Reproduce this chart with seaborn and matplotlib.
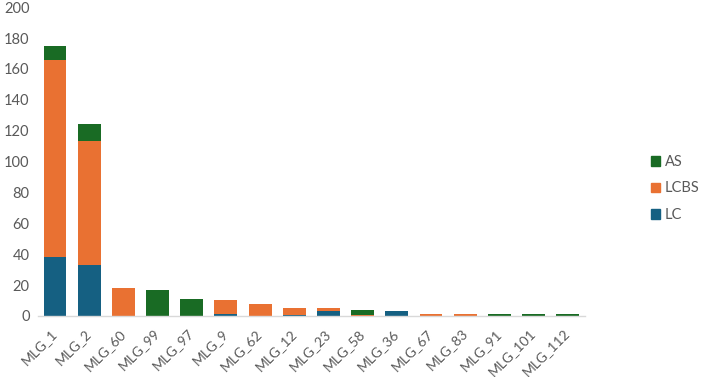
import matplotlib
matplotlib.use("Agg")
import matplotlib.pyplot as plt
import seaborn as sns
import pandas as pd
import numpy as np
from matplotlib.patches import Patch

categories = ["MLG_1", "MLG_2", "MLG_60", "MLG_99", "MLG_97", "MLG_9", "MLG_62", "MLG_12",
              "MLG_23", "MLG_58", "MLG_36", "MLG_67", "MLG_83", "MLG_91", "MLG_101", "MLG_112"]
lc   = [38, 33, 0, 0, 0, 1, 0, 0.5, 3, 0, 3, 0, 0, 0, 0, 0]
lcbs = [128, 80, 18, 0, 0, 9, 8, 4.5, 2, 0.7, 0, 1, 1, 0, 0, 0]
as_  = [9, 11, 0, 17, 11, 0, 0, 0, 0, 3.3, 0, 0, 0, 1, 1, 1]

colors = {"AS": "#196B24", "LCBS": "#E97132", "LC": "#156082"}

df = pd.DataFrame({"cat": categories, "LC": lc, "LCBS": lcbs, "AS": as_})
df["c_LC"] = df["LC"]
df["c_LCBS"] = df["LC"] + df["LCBS"]
df["c_AS"] = df["c_LCBS"] + df["AS"]

sns.set_theme(style="white")
plt.rcParams['font.family'] = ['Lato', 'DejaVu Sans']

fig = plt.figure(figsize=(7.02, 3.77), dpi=100)
ax = fig.add_axes([0.054, 0.162, 0.779, 0.819])

for col, name in [("c_AS", "AS"), ("c_LCBS", "LCBS"), ("c_LC", "LC")]:
    sns.barplot(data=df, x="cat", y=col, order=categories, color=colors[name],
                width=0.67, saturation=1, ax=ax, linewidth=0)

ax.set_ylim(0, 200)
ax.set_yticks(range(0, 201, 20))
ax.set_xlim(-0.5, len(categories) - 0.5)
ax.set_xlabel("")
ax.set_ylabel("")
for s in ["top", "right", "left"]:
    ax.spines[s].set_visible(False)
ax.spines["bottom"].set_color("#D9D9D9")
ax.spines["bottom"].set_linewidth(1)
ax.tick_params(axis="y", length=0, colors="#595959", labelsize=10.5, pad=6)
ax.tick_params(axis="x", length=0, colors="#595959", labelsize=10, pad=11)
plt.setp(ax.get_xticklabels(), rotation=45, ha="right", va="center", rotation_mode="anchor")

handles = [Patch(color=colors[n], label=n) for n in ["AS", "LCBS", "LC"]]
leg = fig.legend(handles=handles, loc="center left", bbox_to_anchor=(0.927, 0.5),
                 frameon=False, fontsize=10.5, handlelength=0.65, handleheight=0.65,
                 handletextpad=0.3, labelspacing=0.85, labelcolor="#595959",
                 borderpad=0, borderaxespad=0)

fig.savefig("out.png", dpi=100)
